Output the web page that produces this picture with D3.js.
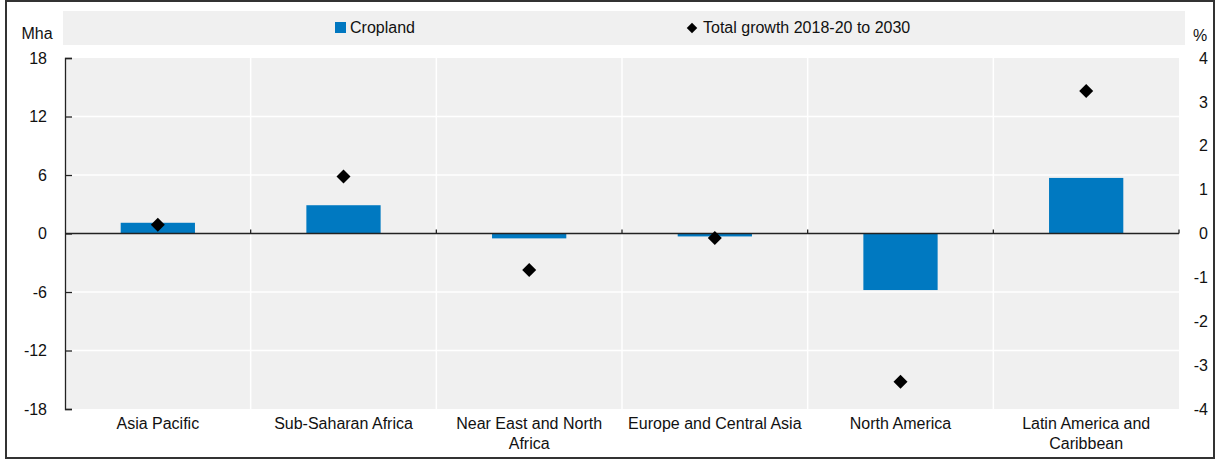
<!DOCTYPE html>
<html><head><meta charset="utf-8">
<script src="https://cdn.jsdelivr.net/npm/d3@7"></script>
<style>body{margin:0;background:#fff;} svg{display:block;font-family:"Liberation Sans",Arial,sans-serif;}</style>
</head><body>
<svg id="chart" width="1219" height="463"></svg>
<script>
const categories = ["Asia Pacific","Sub-Saharan Africa","Near East and North Africa","Europe and Central Asia","North America","Latin America and Caribbean"];
const categoryLines = [["Asia Pacific"],["Sub-Saharan Africa"],["Near East and North","Africa"],["Europe and Central Asia"],["North America"],["Latin America and","Caribbean"]];
const cropland = [1.1, 2.9, -0.5, -0.3, -5.8, 5.7];
const totalGrowth = [0.2, 1.3, -0.83, -0.1, -3.38, 3.25];
const leftTicks = [-18,-12,-6,0,6,12,18];
const rightTicks = [-4,-3,-2,-1,0,1,2,3,4];

const FS = 16;
const svg = d3.select("#chart");
const L = 65, R = 1179, T = 58, B = 409;

svg.append("rect").attr("x",6).attr("y",1).attr("width",1208).attr("height",457)
  .attr("fill","#fff").attr("stroke","#333").attr("stroke-width",2);

// legend band
svg.append("rect").attr("x",63).attr("y",11).attr("width",1122).attr("height",34).attr("fill","#f0f0f0");
svg.append("rect").attr("x",335).attr("y",22).attr("width",11).attr("height",11).attr("fill","#0077c0");
svg.append("text").attr("x",350).attr("y",33).attr("font-size",FS).attr("fill","#111").text("Cropland");
svg.append("path").attr("d",d3.symbol(d3.symbolDiamond2,70)()).attr("transform","translate(692,28)").attr("fill","#000");
svg.append("text").attr("x",703).attr("y",33).attr("font-size",FS).attr("fill","#111").text("Total growth 2018-20 to 2030");

const x = d3.scaleBand().domain(categories).range([L,R]).paddingInner(0).paddingOuter(0);
const yL = d3.scaleLinear().domain([-18,18]).range([B,T]);
const yR = d3.scaleLinear().domain([-4,4]).range([B,T]);

svg.append("rect").attr("x",L).attr("y",T).attr("width",R-L).attr("height",B-T).attr("fill","#f0f0f0");

// gridlines
svg.append("g").selectAll("line").data(leftTicks.filter(d=>d!==0 && d!==-18 && d!==18)).join("line")
  .attr("x1",L).attr("x2",R).attr("y1",d=>yL(d)).attr("y2",d=>yL(d)).attr("stroke","#fff").attr("stroke-width",1.5);
svg.append("g").selectAll("line").data(categories.slice(1)).join("line")
  .attr("x1",d=>x(d)).attr("x2",d=>x(d)).attr("y1",T).attr("y2",B).attr("stroke","#fff").attr("stroke-width",1.5);

// bars
const bw = x.bandwidth()*0.4;
svg.append("g").selectAll("rect").data(cropland).join("rect")
  .attr("x",(d,i)=>x(categories[i])+x.bandwidth()/2-bw/2)
  .attr("width",bw)
  .attr("y",d=>yL(Math.max(0,d)))
  .attr("height",d=>Math.abs(yL(d)-yL(0)))
  .attr("fill","#0079c1");

// zero line with ticks
const y0 = yL(0);
svg.append("line").attr("x1",L).attr("x2",R).attr("y1",y0).attr("y2",y0).attr("stroke","#222").attr("stroke-width",1.3);
svg.append("g").selectAll("line").data(categories.slice(1).map(c=>x(c)).concat([R])).join("line")
  .attr("x1",d=>d).attr("x2",d=>d).attr("y1",y0).attr("y2",y0-4).attr("stroke","#222").attr("stroke-width",1.3);

// left axis
const gl = svg.append("g").attr("transform",`translate(${L},0)`)
  .call(d3.axisLeft(yL).tickValues(leftTicks).tickFormat(d=>String(d)).tickSize(-7).tickPadding(18));
gl.select(".domain").attr("stroke","#222").attr("stroke-width",1.3);
gl.selectAll(".tick line").attr("stroke","#222").attr("stroke-width",1.3);
gl.selectAll(".tick text").attr("font-size",FS).attr("fill","#111").attr("font-family","Liberation Sans, Arial, sans-serif");

// right axis labels
const gr = svg.append("g").attr("transform",`translate(${R},0)`)
  .call(d3.axisRight(yR).tickValues(rightTicks).tickFormat(d=>String(d)).tickSize(0).tickPadding(29));
gr.select(".domain").remove();
gr.selectAll(".tick text").attr("font-size",FS).attr("fill","#111").attr("text-anchor","end").attr("font-family","Liberation Sans, Arial, sans-serif");

svg.append("text").attr("x",37).attr("y",39).attr("font-size",FS).attr("fill","#111").attr("text-anchor","middle").text("Mha");
svg.append("text").attr("x",1200).attr("y",41).attr("font-size",FS).attr("fill","#111").attr("text-anchor","middle").text("%");

// category labels
const cl = svg.append("g").selectAll("text").data(categories).join("text")
  .attr("x",d=>x(d)+x.bandwidth()/2).attr("y",429).attr("text-anchor","middle")
  .attr("font-size",FS).attr("fill","#111");
cl.each(function(d,i){
  d3.select(this).selectAll("tspan").data(categoryLines[i]).join("tspan")
    .attr("x",x(d)+x.bandwidth()/2).attr("dy",(t,j)=>j===0?0:20).text(t=>t);
});

// diamonds
svg.append("g").selectAll("path").data(totalGrowth).join("path")
  .attr("d",d3.symbol(d3.symbolDiamond2,125)())
  .attr("transform",(d,i)=>`translate(${x(categories[i])+x.bandwidth()/2},${yR(d)})`)
  .attr("fill","#000");
</script>
</body></html>
